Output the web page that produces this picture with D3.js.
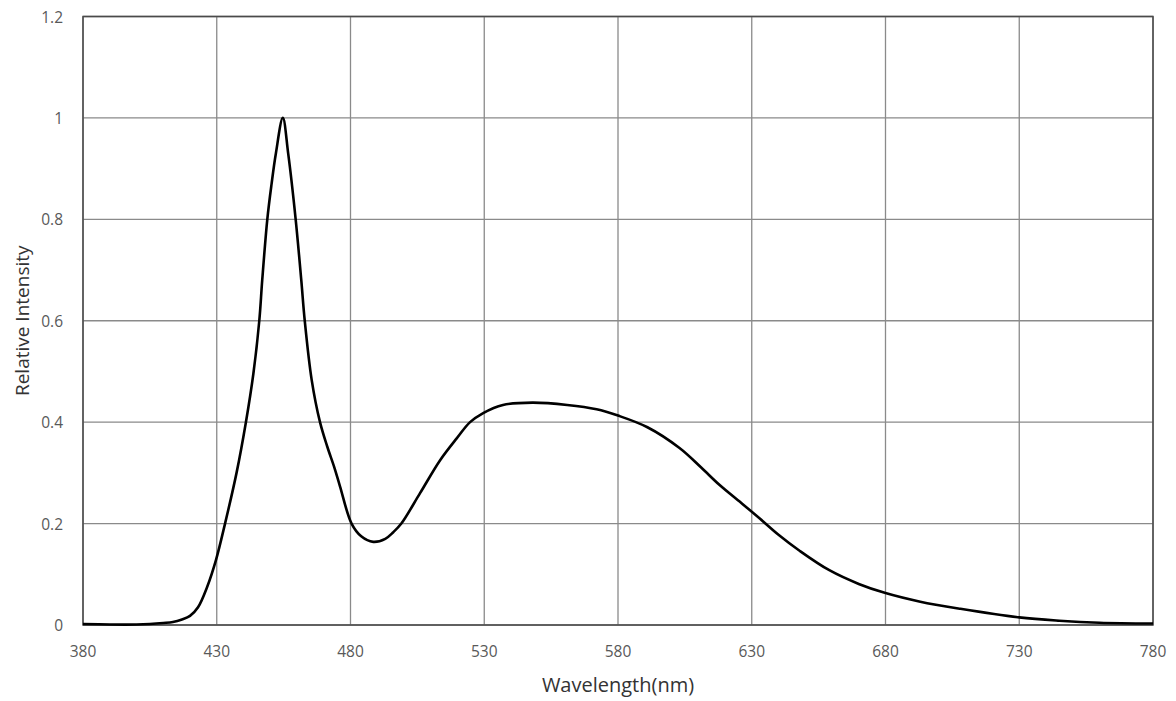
<!DOCTYPE html>
<html>
<head>
<meta charset="utf-8">
<script src="https://cdn.jsdelivr.net/npm/d3@7"></script>
<style>
  body { margin: 0; background: #fff; }
  svg text { font-family: "Open Sans", "Liberation Sans", sans-serif; }
</style>
</head>
<body>
<div id="chart"></div>
<script>
// spectrum
var wavelength = [380, 390, 400, 405, 410, 413.6, 417, 420, 423, 426.4, 429.7, 433.1, 437.4, 440.9, 443.7, 445.9, 447, 448.9, 450.5, 452.1, 454.7,
	456.7, 459.5, 461.6, 462.9, 465.5, 468.6, 471.3, 474, 476.1, 480.4, 484, 488.5, 493, 496, 499, 506, 513.5, 519.7, 524.7,
	529.6, 537, 548, 561, 572, 580, 591, 603, 611, 618, 626, 633, 640, 648, 659, 670, 680, 693, 708, 730, 745, 760, 780];
var intensity = [0.002, 0.001, 0.001, 0.002, 0.004, 0.006, 0.011, 0.018, 0.035, 0.075, 0.128, 0.2, 0.3, 0.4, 0.496, 0.6, 0.68, 0.8, 0.87, 0.93, 1.0,
	0.93, 0.8, 0.68, 0.6, 0.483, 0.4, 0.352, 0.31, 0.273, 0.2, 0.175, 0.164, 0.17, 0.183, 0.2, 0.26, 0.325, 0.368, 0.4,
	0.418, 0.434, 0.4385, 0.434, 0.4255, 0.413, 0.39, 0.349, 0.311, 0.276, 0.241, 0.21, 0.178, 0.146, 0.108, 0.081, 0.063, 0.046, 0.032, 0.015, 0.0085, 0.0045, 0.003];
var xTicks = [380, 430, 480, 530, 580, 630, 680, 730, 780];
var yTicks = [0, 0.2, 0.4, 0.6, 0.8, 1, 1.2];

var width = 1176, height = 701;
var margin = {left: 83, right: 23, top: 16.5, bottom: 76};

var svg = d3.select("#chart").append("svg")
	.attr("width", width)
	.attr("height", height);

var x = d3.scaleLinear().domain([380, 780]).range([margin.left, width - margin.right]);
var y = d3.scaleLinear().domain([0, 1.2]).range([height - margin.bottom, margin.top]);

// grid
svg.append("g").selectAll("line")
	.data(xTicks).enter().append("line")
	.attr("x1", d => x(d)).attr("x2", d => x(d))
	.attr("y1", y(0)).attr("y2", y(1.2))
	.attr("stroke", "#8a8a8a").attr("stroke-width", 1.3);
svg.append("g").selectAll("line")
	.data(yTicks).enter().append("line")
	.attr("x1", x(380)).attr("x2", x(780))
	.attr("y1", d => y(d)).attr("y2", d => y(d))
	.attr("stroke", "#8a8a8a").attr("stroke-width", 1.3);

// plot frame
svg.append("rect")
	.attr("x", x(380)).attr("y", y(1.2))
	.attr("width", x(780) - x(380)).attr("height", y(0) - y(1.2))
	.attr("fill", "none").attr("stroke", "#4a4a4a").attr("stroke-width", 1.5);

// tick labels
svg.append("g").selectAll("text")
	.data(xTicks).enter().append("text")
	.attr("x", d => x(d)).attr("y", y(0) + 32)
	.attr("text-anchor", "middle")
	.attr("font-size", 15.5)
	.attr("fill", "#595959")
	.text(d => d);
svg.append("g").selectAll("text")
	.data(yTicks).enter().append("text")
	.attr("x", x(380) - 20).attr("y", d => y(d) + 6)
	.attr("text-anchor", "end")
	.attr("font-size", 15.5)
	.attr("fill", "#595959")
	.text(d => d);

// axis titles
svg.append("text")
	.attr("x", (x(380) + x(780)) / 2).attr("y", 692)
	.attr("text-anchor", "middle")
	.attr("font-size", 20)
	.attr("fill", "#333")
	.text("Wavelength(nm)");
svg.append("text")
	.attr("transform", "translate(29," + ((y(0) + y(1.2)) / 2) + ") rotate(-90)")
	.attr("text-anchor", "middle")
	.attr("font-size", 19)
	.attr("fill", "#333")
	.text("Relative Intensity");

// spectrum line
var line = d3.line()
	.x((d, i) => x(wavelength[i]))
	.y(d => y(d))
	.curve(d3.curveCatmullRom.alpha(0.5));

svg.append("path")
	.datum(intensity)
	.attr("d", line)
	.attr("fill", "none")
	.attr("stroke", "#000")
	.attr("stroke-width", 2.6)
	.attr("stroke-linejoin", "round");
</script>
</body>
</html>
